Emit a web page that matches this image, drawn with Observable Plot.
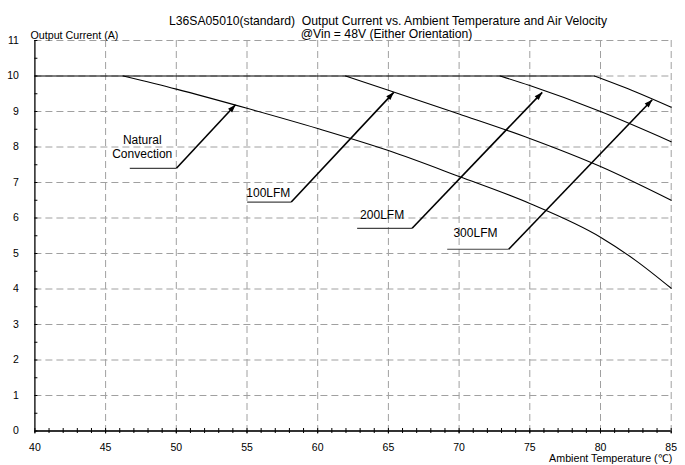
<!DOCTYPE html>
<html><head><meta charset="utf-8">
<script src="https://cdn.jsdelivr.net/npm/d3@7"></script>
<script src="https://cdn.jsdelivr.net/npm/@observablehq/plot@0.6"></script>
<style>body{margin:0;background:#fff} #chart{width:685px;height:465px}</style>
</head><body><div id="chart"></div>
<script>
// ---- text ----
const titleLines = ["L36SA05010(standard)  Output Current vs. Ambient Temperature and Air Velocity", "@Vin = 48V (Either Orientation)"];
const yLabel = "Output Current (A)";
const xLabel = "Ambient Temperature (\u2103)";
const xTicks = [40, 45, 50, 55, 60, 65, 70, 75, 80, 85];
const yTicks = [0, 1, 2, 3, 4, 5, 6, 7, 8, 9, 10, 11];
const xMinorTicks = d3.range(40, 86, 1);
const yMinorTicks = d3.range(0, 11.01, 0.5);

// ---- curves ----
const ratedT = [40, 79.57];
const ratedI = [10, 10];
const naturalT = [46.24, 50, 55, 60, 65, 70, 75, 80, 82.5, 85];
const naturalI = [10, 9.63, 9.09, 8.52, 7.90, 7.17, 6.41, 5.46, 4.80, 4.02];
const lfm100T = [61.97, 65, 70, 75, 80, 85];
const lfm100I = [10, 9.60, 8.93, 8.24, 7.45, 6.50];
const lfm200T = [72.9, 75, 80, 85];
const lfm200I = [10, 9.73, 9.00, 8.15];
const lfm300T = [79.57, 82.5, 85];
const lfm300I = [10, 9.55, 9.12];

// ---- annotations ----
const noteText = ["Natural\nConvection", "100LFM", "200LFM", "300LFM"];
const noteT = [47.59, 54.95, 63.0, 69.6];
const noteI = [8.01, 6.73, 6.10, 5.60];
const noteAnchor = ["middle", "start", "start", "start"];
const leaderStartT = [46.71, 55.01, 62.79, 69.16];
const arrowStartT = [50.01, 58.13, 66.68, 73.51];
const arrowStartI = [7.40, 6.45, 5.71, 5.12];
const arrowEndT = [54.19, 65.38, 75.88, 83.66];
const arrowEndI = [9.19, 9.54, 9.54, 9.33];

const toPts = (T, I) => T.map((t, i) => ({t, v: I[i]}));
const series = [
  toPts(ratedT, ratedI), toPts(naturalT, naturalI), toPts(lfm100T, lfm100I),
  toPts(lfm200T, lfm200I), toPts(lfm300T, lfm300I)
];
const idx = d3.range(noteText.length);
const font = "'Liberation Sans', Arial, sans-serif";
const gridStyle = {stroke: "#a0a0a0", strokeOpacity: 1, strokeDasharray: "7,4", strokeWidth: 1};
const noteMarks = ["middle", "start"].map(anchor =>
  Plot.text(idx.filter(i => noteAnchor[i] === anchor), {
    x: i => noteT[i], y: i => noteI[i], text: i => noteText[i],
    textAnchor: anchor, fontSize: 12, lineHeight: 1.19, fill: "#000"
  }));

const svg = Plot.plot({
  width: 685, height: 465,
  marginLeft: 34.4, marginRight: 14.3, marginTop: 40, marginBottom: 34.5,
  style: {fontFamily: font, fontSize: "10px", background: "#fff", color: "#000"},
  x: {domain: [40, 85], label: null},
  y: {domain: [0, 11], label: null},
  marks: [
    Plot.gridY(yTicks.filter(d => d > 0), gridStyle),
    Plot.gridX(xTicks.filter(d => d > 40), gridStyle),
    ...series.map(s => Plot.line(s, {x: "t", y: "v", stroke: "#000", strokeWidth: 1.1, curve: "monotone-x"})),
    Plot.link(idx, {x1: i => leaderStartT[i], y1: i => arrowStartI[i], x2: i => arrowStartT[i], y2: i => arrowStartI[i], stroke: "#444", strokeWidth: 1.2}),
    Plot.link(idx, {x1: i => arrowStartT[i], y1: i => arrowStartI[i], x2: i => arrowEndT[i], y2: i => arrowEndI[i], stroke: "#000", strokeWidth: 1.6, markerEnd: "arrow"}),
    ...noteMarks,
    Plot.ruleX([40], {y1: 0, y2: 11, stroke: "#000", strokeWidth: 1.3}),
    Plot.ruleY([0], {stroke: "#333", strokeWidth: 2}),
    Plot.axisY(yTicks, {tickSize: 0, tickPadding: 16, fontSize: 10.5, label: null}),
    Plot.axisY(yMinorTicks, {tickSize: -3, tickFormat: () => "", label: null}),
    Plot.axisX(xTicks, {tickSize: 3, tickPadding: 9.5, fontSize: 10.5, label: null}),
    Plot.axisX(xMinorTicks, {tickSize: 2.5, tickFormat: () => "", label: null}),
    Plot.axisX(xMinorTicks, {tickSize: -2.5, tickFormat: () => "", label: null}),
    Plot.text([titleLines[0]], {frameAnchor: "top", dx: 35, dy: -24.5, fontSize: 12.2}),
    Plot.text([titleLines[1]], {frameAnchor: "top", dx: 33.5, dy: -11.5, fontSize: 12.2}),
    Plot.text([yLabel], {frameAnchor: "top-left", textAnchor: "start", dx: -4.4, dy: -9.3, fontSize: 10.7}),
    Plot.text([xLabel], {frameAnchor: "bottom-right", textAnchor: "end", dx: 1, dy: 30.5, fontSize: 10.7})
  ]
});

// solid arrowheads
svg.querySelectorAll("marker").forEach(m => {
  const color = m.getAttribute("stroke") || "#000";
  m.setAttribute("viewBox", "-9 -4 10 8");
  m.setAttribute("markerUnits", "userSpaceOnUse");
  m.setAttribute("markerWidth", 10);
  m.setAttribute("markerHeight", 8);
  m.setAttribute("fill", color);
  m.setAttribute("stroke", "none");
  m.innerHTML = "";
  const p = document.createElementNS("http://www.w3.org/2000/svg", "path");
  p.setAttribute("d", "M-8,-2.8L0,0L-8,2.8Z");
  m.appendChild(p);
});

document.getElementById("chart").appendChild(svg);
</script>
</body></html>
